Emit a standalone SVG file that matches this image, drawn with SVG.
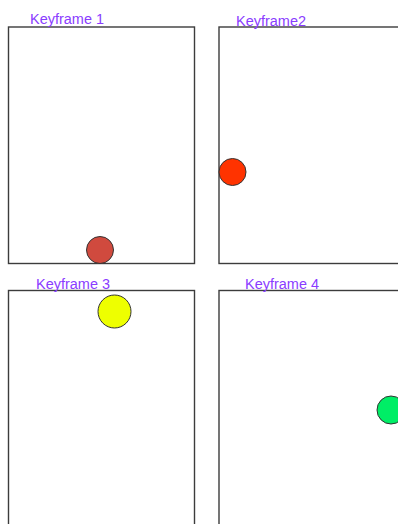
<svg xmlns="http://www.w3.org/2000/svg" width="398" height="524" viewBox="0 0 398 524">
<style>
.frame{fill:#fff;stroke:#3c3c3c;stroke-width:1.4}
.lbl{font-family:"Liberation Sans",Arial,sans-serif;font-size:14px;fill:#8a3cff}
.ball{stroke:#333;stroke-width:1}
</style>
<rect width="398" height="524" fill="#fff"/>
<g id="keyframe1">
<rect class="frame" x="8.5" y="27" width="186" height="236.5"/>
<text class="lbl" x="30" y="24" textLength="74" lengthAdjust="spacingAndGlyphs">Keyframe 1</text>
<circle class="ball" cx="100" cy="250" r="13.5" fill="#d04a3e"/>
</g>
<g id="keyframe2">
<rect class="frame" x="219" y="27" width="186" height="236.5"/>
<text class="lbl" x="236" y="26" textLength="70" lengthAdjust="spacingAndGlyphs">Keyframe2</text>
<circle class="ball" cx="232.5" cy="172" r="13.5" fill="#ff3300"/>
</g>
<g id="keyframe3">
<rect class="frame" x="8.5" y="290.5" width="186" height="240"/>
<text class="lbl" x="36" y="289" textLength="74" lengthAdjust="spacingAndGlyphs">Keyframe 3</text>
<circle class="ball" cx="114.5" cy="311.5" r="16.5" fill="#eeff00"/>
</g>
<g id="keyframe4">
<rect class="frame" x="219" y="290.5" width="186" height="240"/>
<text class="lbl" x="245" y="289" textLength="74" lengthAdjust="spacingAndGlyphs">Keyframe 4</text>
<circle class="ball" cx="391" cy="410" r="14" fill="#00ee66"/>
</g>
<g id="connectors"></g>
</svg>
